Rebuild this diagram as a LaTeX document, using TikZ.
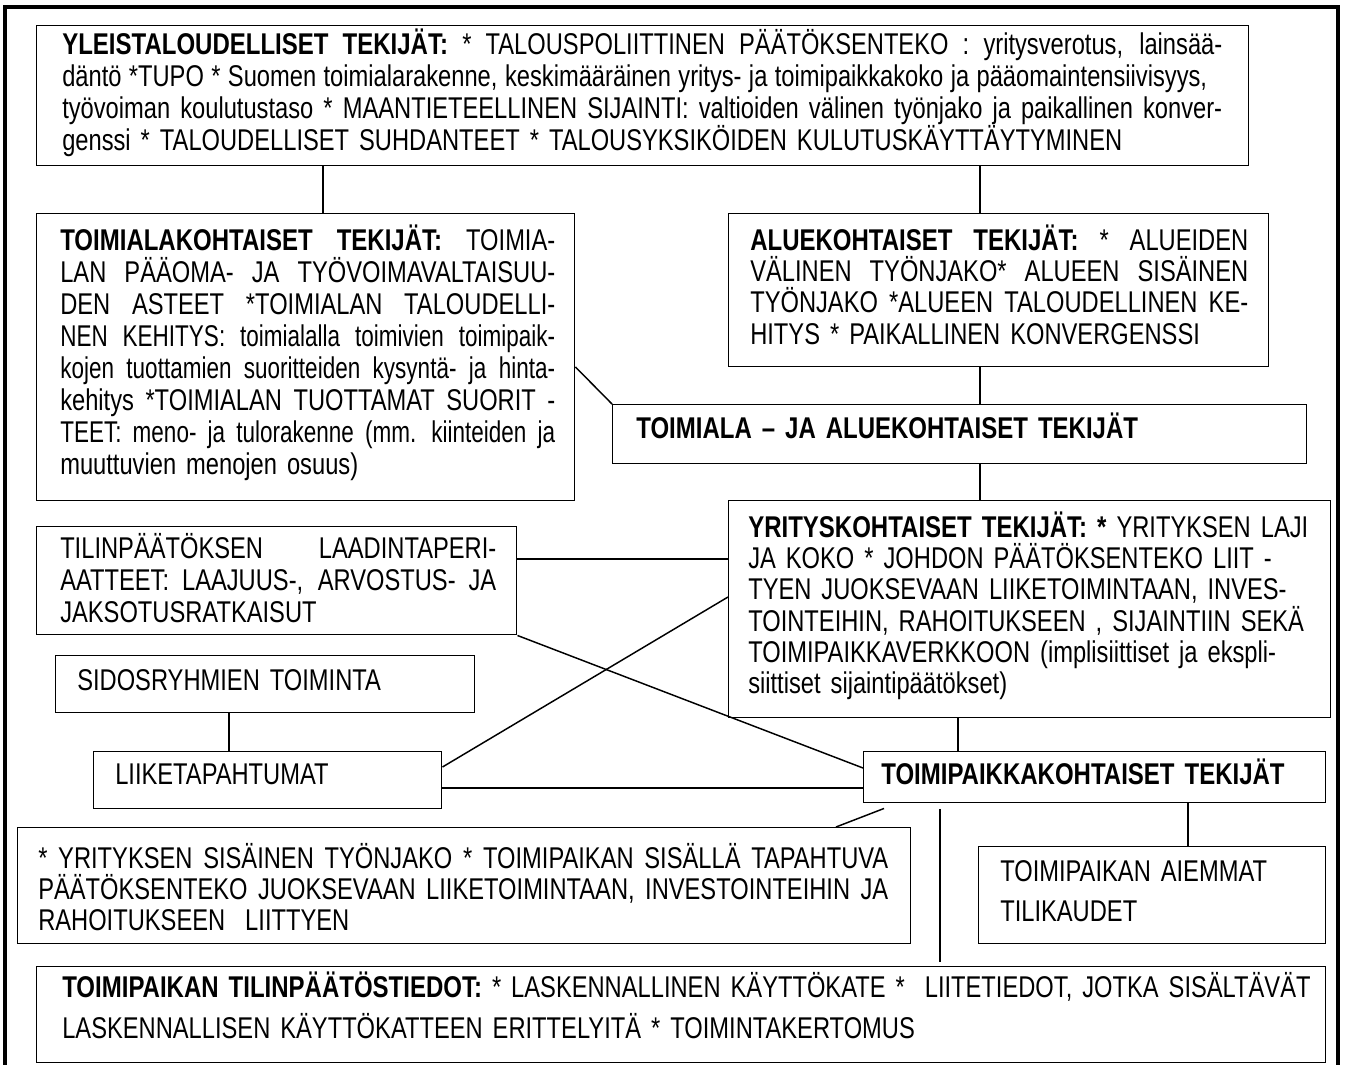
\documentclass[tikz,border=0pt]{standalone}
\usepackage{fontspec}
\setmainfont{Liberation Sans}[UprightFeatures={FakeStretch=0.79},BoldFeatures={FakeStretch=0.80}]
\newfontfamily\narrow{Liberation Sans}[FakeStretch=0.75]
\usetikzlibrary{calc}
% one drawing unit = 0.75pt
\def\u{0.75pt}
% a justified line of the given width (in drawing units)
\newcommand\jl[2]{\makebox[\dimexpr0.75pt*#1\relax][s]{%
  \spaceskip=\fontdimen2\font plus 1fil minus 0.35\fontdimen2\font\relax #2}}
\tikzset{
  box/.style={draw, line width=1.1pt, inner sep=0pt, anchor=north west},
  txt/.style={anchor=base west, inner sep=0pt, align=left, text width=1000pt,
              font=\fontsize{22.5}{#1}\selectfont},
  wire/.style={line width=1.1pt},
}
\begin{document}
\begin{tikzpicture}[x=0.75pt,y=-0.75pt]
\useasboundingbox (0,0) rectangle (1346,1064);
\draw[line width=3pt] (4.5,7) rectangle (1337.5,1090);

% boxes
\node[box, minimum width=1212*\u, minimum height=140*\u] (b1)  at (36,25)  {};
\node[box, minimum width=538*\u,  minimum height=287*\u] (b2)  at (36,213) {};
\node[box, minimum width=540*\u,  minimum height=153*\u] (b3)  at (728,213) {};
\node[box, minimum width=694*\u,  minimum height=59*\u]  (b4)  at (612,404) {};
\node[box, minimum width=602*\u,  minimum height=217*\u] (b5)  at (728,500) {};
\node[box, minimum width=480*\u,  minimum height=108*\u] (b6)  at (36,526) {};
\node[box, minimum width=419*\u,  minimum height=57*\u]  (b7)  at (55,655) {};
\node[box, minimum width=348*\u,  minimum height=57*\u]  (b8)  at (93,751) {};
\node[box, minimum width=462*\u,  minimum height=51*\u]  (b9)  at (863,751) {};
\node[box, minimum width=893*\u,  minimum height=116*\u] (b10) at (17,827) {};
\node[box, minimum width=347*\u,  minimum height=97*\u]  (b11) at (978,846) {};
\node[box, minimum width=1289*\u, minimum height=96*\u]  (b12) at (36,966) {};

% texts
\node[txt=24pt] (t1) at (62,54) {%
  \jl{1160}{\textbf{YLEISTALOUDELLISET TEKIJÄT:} * TALOUSPOLIITTINEN PÄÄTÖKSENTEKO : yritysverotus, lainsää-}\\
  \jl{1145}{däntö *TUPO * Suomen toimialarakenne, keskimääräinen yritys- ja toimipaikkakoko ja pääomaintensiivisyys,}\\
  \jl{1160}{työvoiman koulutustaso * MAANTIETEELLINEN SIJAINTI: valtioiden välinen työnjako ja paikallinen konver-}\\
  \mbox{genssi * TALOUDELLISET SUHDANTEET * TALOUSYKSIKÖIDEN KULUTUSKÄYTTÄYTYMINEN}};

\node[txt=24pt] (t2) at (60,250) {%
  \jl{495}{\textbf{TOIMIALAKOHTAISET TEKIJÄT:} TOIMIA-}\\
  \jl{495}{LAN PÄÄOMA- JA TYÖVOIMAVALTAISUU-}\\
  \jl{495}{DEN ASTEET *TOIMIALAN TALOUDELLI-}\\
  \jl{495}{\narrow NEN KEHITYS: toimialalla toimivien toimipaik-}\\
  \jl{495}{\narrow kojen tuottamien suoritteiden kysyntä- ja hinta-}\\
  \jl{495}{kehitys *TOIMIALAN TUOTTAMAT SUORIT -}\\
  \jl{495}{\narrow TEET: meno- ja tulorakenne (mm. kiinteiden ja}\\
  \mbox{muuttuvien menojen osuus)}};

\node[txt=23.6pt] (t3) at (750,250) {%
  \jl{498}{\textbf{ALUEKOHTAISET TEKIJÄT:} * ALUEIDEN}\\
  \jl{498}{VÄLINEN TYÖNJAKO* ALUEEN SISÄINEN}\\
  \jl{498}{TYÖNJAKO *ALUEEN TALOUDELLINEN KE-}\\
  \mbox{HITYS * PAIKALLINEN KONVERGENSSI}};

\node[txt=24pt] (t4) at (636,438) {\textbf{TOIMIALA – JA ALUEKOHTAISET TEKIJÄT}};

\node[txt=23.5pt] (t5) at (748,537) {%
  \mbox{\textbf{YRITYSKOHTAISET TEKIJÄT: *} YRITYKSEN LAJI}\\
  \mbox{JA KOKO * JOHDON PÄÄTÖKSENTEKO LIIT -}\\
  \mbox{TYEN JUOKSEVAAN LIIKETOIMINTAAN, INVES-}\\
  \mbox{TOINTEIHIN, RAHOITUKSEEN , SIJAINTIIN SEKÄ}\\
  \mbox{TOIMIPAIKKAVERKKOON (implisiittiset ja ekspli-}\\
  \mbox{siittiset sijaintipäätökset)}};

\node[txt=24pt] (t6) at (60,558) {%
  \jl{436}{TILINPÄÄTÖKSEN LAADINTAPERI-}\\
  \jl{436}{AATTEET: LAAJUUS-, ARVOSTUS- JA}\\
  \mbox{JAKSOTUSRATKAISUT}};

\node[txt=24pt] (t7) at (77,690) {SIDOSRYHMIEN TOIMINTA};
\node[txt=24pt] (t8) at (115,784) {LIIKETAPAHTUMAT};
\node[txt=24pt] (t9) at (881,784) {\textbf{TOIMIPAIKKAKOHTAISET TEKIJÄT}};

\node[txt=23.25pt] (t10) at (38,868) {%
  \jl{850}{* YRITYKSEN SISÄINEN TYÖNJAKO * TOIMIPAIKAN SISÄLLÄ TAPAHTUVA}\\
  \jl{850}{PÄÄTÖKSENTEKO JUOKSEVAAN LIIKETOIMINTAAN, INVESTOINTEIHIN JA}\\
  \mbox{RAHOITUKSEEN \ LIITTYEN}};

\node[txt=30pt] (t11) at (1000,881) {TOIMIPAIKAN AIEMMAT\\TILIKAUDET};

\node[txt=30.75pt] (t12) at (62,997) {%
  \mbox{\textbf{TOIMIPAIKAN TILINPÄÄTÖSTIEDOT:} * LASKENNALLINEN KÄYTTÖKATE * \ LIITETIEDOT, JOTKA SISÄLTÄVÄT}\\
  \mbox{LASKENNALLISEN KÄYTTÖKATTEEN ERITTELYITÄ * TOIMINTAKERTOMUS}};

% connector positions
\coordinate (k1) at (323,0);
\coordinate (k2) at (980,0);
\coordinate (k3) at (229,0);
\coordinate (k4) at (958,0);
\coordinate (k5) at (1188,0);
\coordinate (k6) at (940,0);

% connectors
\draw[wire] (b1.south -| k1) -- (b2.north -| k1);
\draw[wire] (b1.south -| k2) -- (b3.north -| k2);
\draw[wire] (b3.south -| k2) -- (b4.north -| k2);
\draw[wire] (b4.south -| k2) -- (b5.north -| k2);
\draw[wire] ($(b2.north east)+(0,154)$) -- (b4.north west);
\draw[wire] ($(b6.north east)+(0,33)$) -- ($(b5.north west)+(0,59)$);
\draw[wire] ($(b8.north east)+(0,16)$) -- ($(b5.north west)+(0,97)$);
\draw[wire] (b6.south east) -- ($(b9.north west)+(0,17)$);
\draw[wire] ($(b8.north east)+(0,37)$) -- ($(b9.north west)+(0,37)$);
\draw[wire] (b7.south -| k3) -- (b8.north -| k3);
\draw[wire] (b5.south -| k4) -- (b9.north -| k4);
\draw[wire] (b9.south -| k5) -- (b11.north -| k5);
\draw[wire, shorten <=4pt, shorten >=3pt] (b9.south -| k6) -- (b12.north -| k6);
\draw[wire] ($(b9.south west)+(21,5)$) -- ($(b10.north west)+(819,0)$);
\end{tikzpicture}
\end{document}
